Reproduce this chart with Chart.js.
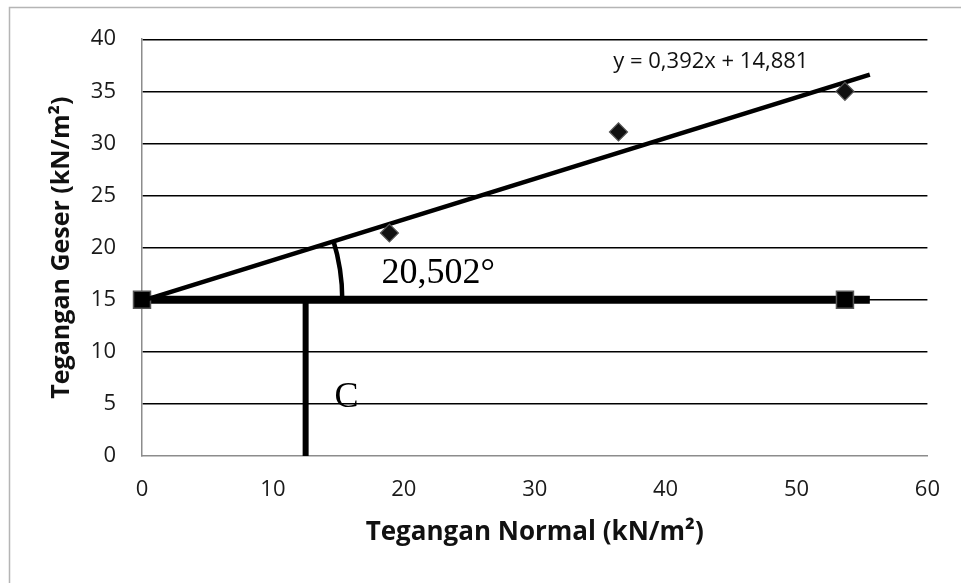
<!DOCTYPE html>
<html>
<head>
<meta charset="utf-8">
<script src="https://cdn.jsdelivr.net/npm/chart.js@4.4.1/dist/chart.umd.min.js"></script>
<style>
  html, body { margin: 0; padding: 0; background: #ffffff; }
  #wrap { width: 961px; height: 583px; }
</style>
</head>
<body>
<div id="wrap"><canvas id="c" width="961" height="583"></canvas></div>
<script>
// ---- data ----
const normalStress = [18.9, 36.4, 53.7];          // x of measured points (kN/m²)
const shearStress  = [21.4, 31.1, 35.0];          // y of measured points (kN/m²)
const trendX = [0, 55.6];                          // trend line ends
const trendY = [14.881, 36.6];
const cohesionX = [0, 53.7, 55.6];                 // horizontal line at c
const cohesionY = [15, 15, 15];
const cohesionMarker = [12, 12, 0];
const cLineX = [12.5, 12.5];                       // vertical "C" line
const cLineY = [0, 15];
const arcRadiusX = 15.3;                           // angle arc radius, in x units
const xTicks = [0, 10, 20, 30, 40, 50, 60];
const yTicks = [0, 5, 10, 15, 20, 25, 30, 35, 40];
const equationText = 'y = 0,392x + 14,881';
const equationPos = [36.0, 37.2];
const angleText = '20,502°';
const anglePos = [18.3, 16.6];
const cText = 'C';
const cPos = [14.7, 4.7];
const xTitle = 'Tegangan Normal (kN/m²)';
const yTitle = 'Tegangan Geser (kN/m²)';

const toXY = (xs, ys) => xs.map((v, i) => ({ x: v, y: ys[i] }));

const annotations = {
  id: 'annotations',
  beforeDraw(chart) {
    const ctx = chart.ctx;
    ctx.save();
    ctx.fillStyle = '#ffffff';
    ctx.fillRect(0, 0, chart.width, chart.height);
    ctx.strokeStyle = '#b5b5b5';
    ctx.lineWidth = 1.5;
    ctx.beginPath();
    ctx.moveTo(9.5, chart.height);
    ctx.lineTo(9.5, 7.5);
    ctx.lineTo(chart.width, 7.5);
    ctx.stroke();
    ctx.restore();
  },
  afterDatasetsDraw(chart) {
    const { ctx, scales: { x, y } } = chart;
    ctx.save();
    // angle arc between horizontal line and trend line
    const cx = x.getPixelForValue(cohesionX[0]);
    const cy = y.getPixelForValue(cohesionY[0]);
    const tx = x.getPixelForValue(trendX[1]) - x.getPixelForValue(trendX[0]);
    const ty = y.getPixelForValue(trendY[1]) - y.getPixelForValue(trendY[0]);
    const ang = Math.atan2(ty, tx);
    const r = x.getPixelForValue(arcRadiusX) - cx;
    ctx.strokeStyle = '#000';
    ctx.lineWidth = 4.5;
    ctx.beginPath();
    ctx.arc(cx, cy, r, ang, 0);
    ctx.stroke();

    ctx.fillStyle = '#000';
    ctx.textBaseline = 'alphabetic';
    ctx.textAlign = 'left';
    ctx.font = '36px "Liberation Serif", "Times New Roman", serif';
    ctx.fillText(angleText, x.getPixelForValue(anglePos[0]), y.getPixelForValue(anglePos[1]));
    ctx.fillText(cText, x.getPixelForValue(cPos[0]), y.getPixelForValue(cPos[1]));

    ctx.font = '22px "Open Sans", sans-serif';
    ctx.fillStyle = '#111';
    ctx.fillText(equationText, x.getPixelForValue(equationPos[0]), y.getPixelForValue(equationPos[1]));
    ctx.restore();
  }
};

new Chart(document.getElementById('c'), {
  type: 'scatter',
  data: {
    datasets: [
      {
        label: 'Cohesion line',
        data: toXY(cohesionX, cohesionY),
        showLine: true,
        clip: false,
        borderColor: '#000',
        borderWidth: 8,
        pointStyle: 'rect',
        pointRadius: cohesionMarker,
        pointHoverRadius: cohesionMarker,
        pointBackgroundColor: '#000',
        pointBorderColor: '#555',
        pointBorderWidth: 1.5,
        order: 3
      },
      {
        label: 'C line',
        data: toXY(cLineX, cLineY),
        showLine: true,
        borderColor: '#000',
        borderWidth: 6,
        pointRadius: 0,
        order: 4
      },
      {
        label: 'Trend',
        data: toXY(trendX, trendY),
        showLine: true,
        clip: false,
        borderColor: '#000',
        borderWidth: 4.5,
        pointRadius: 0,
        order: 2
      },
      {
        label: 'Data',
        data: toXY(normalStress, shearStress),
        showLine: false,
        pointStyle: 'rectRot',
        pointRadius: 9,
        pointHoverRadius: 9,
        pointBackgroundColor: '#111',
        pointBorderColor: '#555',
        pointBorderWidth: 1.2,
        order: 1
      }
    ]
  },
  options: {
    responsive: false,
    devicePixelRatio: 1,
    animation: false,
    events: [],
    layout: { padding: { left: 0, top: 37, right: 31, bottom: 0 } },
    plugins: { legend: { display: false }, tooltip: { enabled: false } },
    scales: {
      x: {
        type: 'linear',
        min: 0, max: 60,
        afterFit: s => { s.height = 127; },
        afterBuildTicks: s => { s.ticks = xTicks.map(v => ({ value: v })); },
        ticks: { font: { family: 'Open Sans', size: 22 }, color: '#1a1a1a', padding: 21 },
        grid: { display: false, drawTicks: false },
        border: { display: true, color: '#8c8c8c', width: 1.5 },
        title: {
          display: true, text: xTitle, color: '#111',
          font: { family: 'Open Sans', size: 26, weight: 'bold' },
          padding: { top: 0, bottom: 35 }
        }
      },
      y: {
        type: 'linear',
        min: 0, max: 40,
        afterFit: s => { s.width = 142; },
        afterBuildTicks: s => { s.ticks = yTicks.map(v => ({ value: v })); },
        ticks: { font: { family: 'Open Sans', size: 22 }, color: '#1a1a1a', padding: 26 },
        grid: {
          drawTicks: false,
          color: ctx => (ctx.tick && ctx.tick.value === 0) ? 'rgba(0,0,0,0)' : '#000',
          lineWidth: 1.4
        },
        border: { display: true, color: '#8c8c8c', width: 1.5 },
        title: {
          display: true, text: yTitle, color: '#111',
          font: { family: 'Open Sans', size: 25, weight: 'bold' },
          padding: { top: 47, bottom: 0 }
        }
      }
    }
  },
  plugins: [annotations]
});
</script>
</body>
</html>
